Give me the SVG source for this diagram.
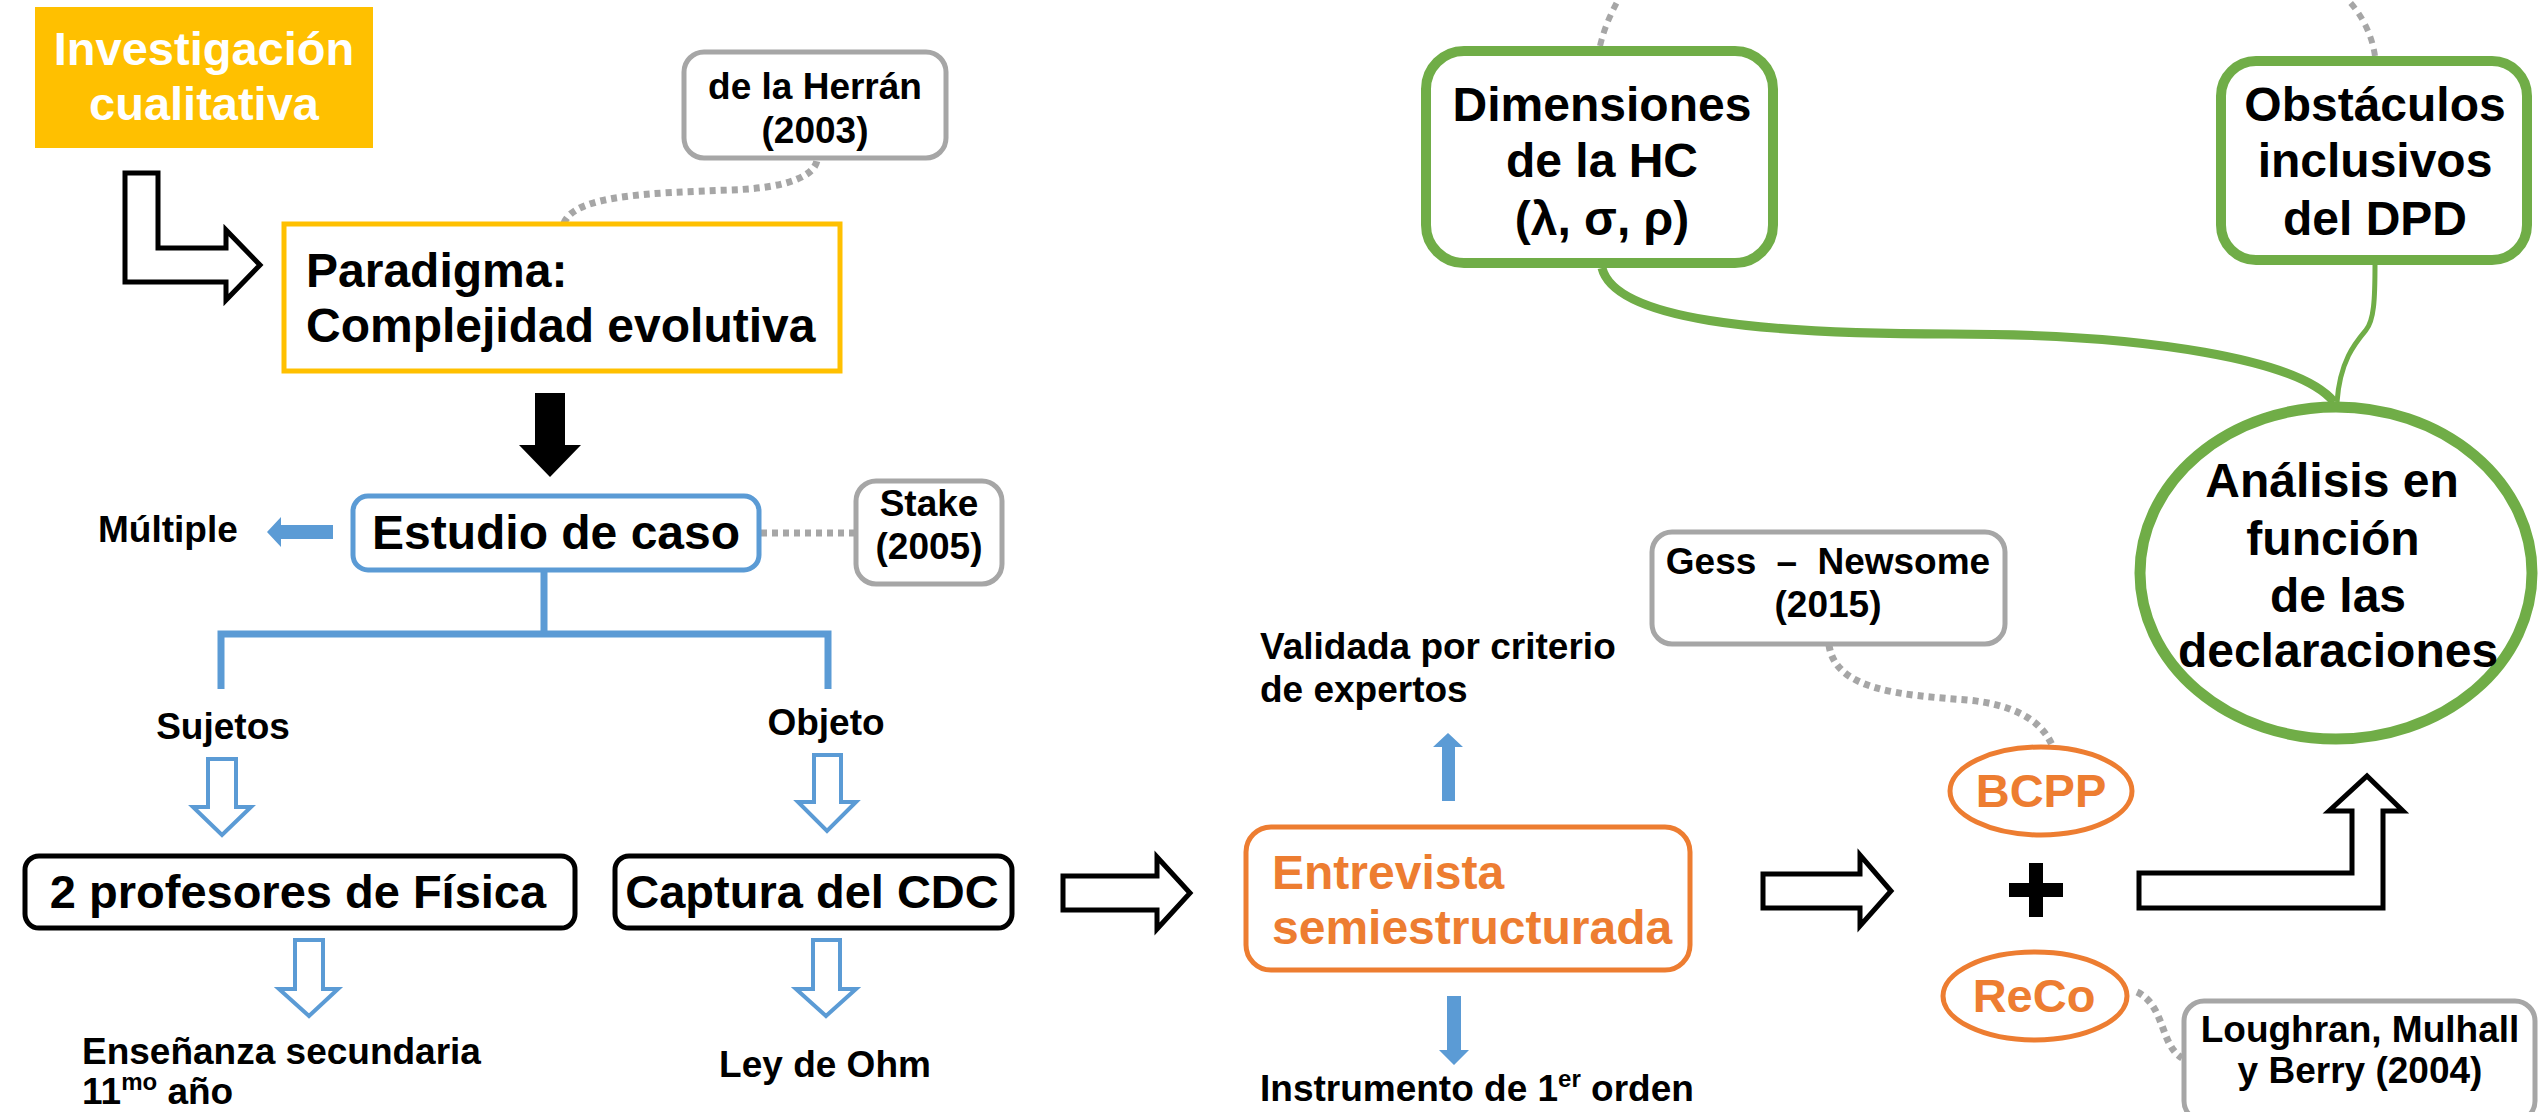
<svg xmlns="http://www.w3.org/2000/svg" width="2539" height="1112" viewBox="0 0 2539 1112">
<style>
text{font-family:"Liberation Sans",Arial,sans-serif;font-weight:bold;fill:#000}
.big{font-size:48px}
.mid{font-size:47px}
.sm{font-size:37px}
.c{text-anchor:middle}
.w{fill:#fff}
.o{fill:#ED7D31}
.gbox{fill:#fff;stroke:#A6A6A6;stroke-width:5}
.kbox{fill:#fff;stroke:#000;stroke-width:5}
.bbox{fill:#fff;stroke:#5B9BD5;stroke-width:5}
.obox{fill:#fff;stroke:#ED7D31;stroke-width:5}
.grbox{fill:#fff;stroke:#70AD47;stroke-width:10}
.dot{fill:none;stroke:#A6A6A6;stroke-width:7;stroke-dasharray:6 5}
.dash{fill:none;stroke:#A6A6A6;stroke-width:6;stroke-dasharray:7 6}
.hollowK{fill:#fff;stroke:#000;stroke-width:5;stroke-linejoin:miter}
.hollowB{fill:#fff;stroke:#5B9BD5;stroke-width:4}
.solidB{fill:#5B9BD5}
.grn{fill:none;stroke:#70AD47}
</style>

<g id="connectors">
  <path class="dot" d="M564,223 C575,195 650,193 730,190 C790,188 815,175 817,160"/>
  <line class="dot" x1="761" y1="533" x2="856" y2="533"/>
  <path d="M544,572 V634 M221,689 V634 H828 V689" fill="none" stroke="#5B9BD5" stroke-width="7"/>
  <polygon class="hollowK" points="125,173 158,173 158,248 226,248 226,230 260,265 226,300 226,282 125,282"/>
  <polygon fill="#000" points="535,393 565,393 565,445 581,445 550,477 519,445 535,445"/>
  <polygon class="solidB" points="333,525 281,525 281,517 267,532 281,547 281,539 333,539"/>
  <polygon class="hollowB" points="208,759 236,759 236,807 251,807 222,835 193,807 208,807"/>
  <polygon class="hollowB" points="814,755 841,755 841,802 856,802 827,831 798,802 814,802"/>
  <polygon class="hollowB" points="295,940 323,940 323,989 338,989 309,1016 279,989 295,989"/>
  <polygon class="hollowB" points="813,940 840,940 840,989 856,989 826,1016 796,989 813,989"/>
  <polygon class="hollowK" points="1063,876 1157,876 1157,857 1190,893 1157,929 1157,910 1063,910"/>
  <polygon class="solidB" points="1442,801 1442,747 1433,747 1448,733 1463,747 1455,747 1455,801"/>
  <polygon class="solidB" points="1447,996 1461,996 1461,1050 1469,1050 1454,1065 1439,1050 1447,1050"/>
  <polygon class="hollowK" points="1763,874 1860,874 1860,855 1891,891 1860,926 1860,908 1763,908"/>
  <polygon class="hollowK" points="2139,873 2352,873 2352,811 2329,811 2367,776 2403,811 2383,811 2383,908 2139,908"/>
  <path class="dot" d="M1829,645 C1835,690 1900,695 1967,700 C2010,704 2040,718 2052,745"/>
  <path class="dot" d="M2137,992 C2165,1005 2160,1045 2182,1058"/>
  <path class="dash" d="M1600,46 C1605,25 1612,12 1618,0"/>
  <path class="dash" d="M2375,56 C2372,35 2362,15 2348,0"/>
  <path class="grn" stroke-width="9" d="M1602,268 C1615,320 1760,334 1950,334 C2150,334 2300,360 2334,402"/>
  <path class="grn" stroke-width="5" d="M2375,264 C2375,300 2374,320 2366,330 C2356,342 2340,360 2337,402"/>
</g>

<g id="investigacion">
  <rect x="35" y="7" width="338" height="141" fill="#FFC000"/>
  <text class="mid c w" x="204" y="65">Investigación</text>
  <text class="mid c w" x="204" y="120">cualitativa</text>
</g>

<g id="herran">
  <rect class="gbox" x="684" y="52" width="262" height="106" rx="20"/>
  <text class="sm c" x="815" y="99">de la Herrán</text>
  <text class="sm c" x="815" y="143">(2003)</text>
</g>

<g id="paradigma">
  <rect x="284" y="224" width="556" height="147" fill="#fff" stroke="#FFC000" stroke-width="5"/>
  <text class="big" x="306" y="287">Paradigma:</text>
  <text class="big" x="306" y="342">Complejidad evolutiva</text>
</g>

<g id="estudio">
  <rect class="bbox" x="353" y="496" width="406" height="74" rx="15"/>
  <text class="big c" x="556" y="549">Estudio de caso</text>
</g>

<g id="stake">
  <rect class="gbox" x="856" y="481" width="146" height="103" rx="20"/>
  <text class="sm c" x="929" y="516">Stake</text>
  <text class="sm c" x="929" y="559">(2005)</text>
</g>

<g id="multiple"><text class="sm" x="98" y="542">Múltiple</text></g>
<g id="sujetos"><text class="sm c" x="223" y="739">Sujetos</text></g>
<g id="objeto"><text class="sm c" x="826" y="735">Objeto</text></g>

<g id="profesores">
  <rect class="kbox" x="25" y="856" width="550" height="72" rx="14"/>
  <text class="mid c" x="298" y="908">2 profesores de Física</text>
</g>

<g id="captura">
  <rect class="kbox" x="615" y="856" width="397" height="72" rx="14"/>
  <text class="mid c" x="812" y="908">Captura del CDC</text>
</g>

<g id="ensenanza">
  <text class="sm" x="82" y="1064">Enseñanza secundaria</text>
  <text class="sm" x="82" y="1104">11<tspan font-size="24" dy="-14">mo</tspan><tspan dy="14"> año</tspan></text>
</g>

<g id="ley"><text class="sm c" x="825" y="1077">Ley de Ohm</text></g>

<g id="entrevista">
  <rect class="obox" x="1246" y="827" width="444" height="143" rx="25"/>
  <text class="big o" x="1272" y="889">Entrevista</text>
  <text class="big o" x="1272" y="944">semiestructurada</text>
</g>

<g id="validada">
  <text class="sm" x="1260" y="659">Validada por criterio</text>
  <text class="sm" x="1260" y="702">de expertos</text>
</g>

<g id="instrumento">
  <text class="sm" x="1260" y="1101">Instrumento de 1<tspan font-size="24" dy="-14">er</tspan><tspan dy="14"> orden</tspan></text>
</g>

<g id="gess">
  <rect class="gbox" x="1652" y="532" width="353" height="112" rx="20"/>
  <text class="sm c" x="1828" y="574" word-spacing="10">Gess – Newsome</text>
  <text class="sm c" x="1828" y="617">(2015)</text>
</g>

<g id="bcpp">
  <ellipse cx="2041" cy="791" rx="91" ry="44" fill="#fff" stroke="#ED7D31" stroke-width="5"/>
  <text class="mid c o" x="2041" y="807">BCPP</text>
</g>

<g id="plus">
  <rect x="2029" y="863" width="14" height="54" fill="#000"/>
  <rect x="2009" y="883" width="54" height="14" fill="#000"/>
</g>

<g id="reco">
  <ellipse cx="2035" cy="996" rx="92" ry="44" fill="#fff" stroke="#ED7D31" stroke-width="5"/>
  <text class="mid c o" x="2034" y="1012">ReCo</text>
</g>

<g id="loughran">
  <rect class="gbox" x="2184" y="1001" width="351" height="120" rx="20"/>
  <text class="sm c" x="2360" y="1042">Loughran, Mulhall</text>
  <text class="sm c" x="2360" y="1083">y Berry (2004)</text>
</g>

<g id="analisis">
  <ellipse cx="2336" cy="573" rx="196" ry="166" fill="none" stroke="#70AD47" stroke-width="11"/>
  <text class="big c" x="2332" y="497">Análisis en</text>
  <text class="big c" x="2333" y="555">función</text>
  <text class="big c" x="2338" y="612">de las</text>
  <text class="big c" x="2338" y="667">declaraciones</text>
</g>

<g id="dimensiones">
  <rect class="grbox" x="1426" y="51" width="347" height="212" rx="38"/>
  <text class="big c" x="1602" y="121">Dimensiones</text>
  <text class="big c" x="1602" y="177">de la HC</text>
  <text class="big c" x="1602" y="235">(λ, σ, ρ)</text>
</g>

<g id="obstaculos">
  <rect class="grbox" x="2221" y="61" width="306" height="199" rx="35"/>
  <text class="big c" x="2375" y="121">Obstáculos</text>
  <text class="big c" x="2375" y="177">inclusivos</text>
  <text class="big c" x="2375" y="235">del DPD</text>
</g>
</svg>
